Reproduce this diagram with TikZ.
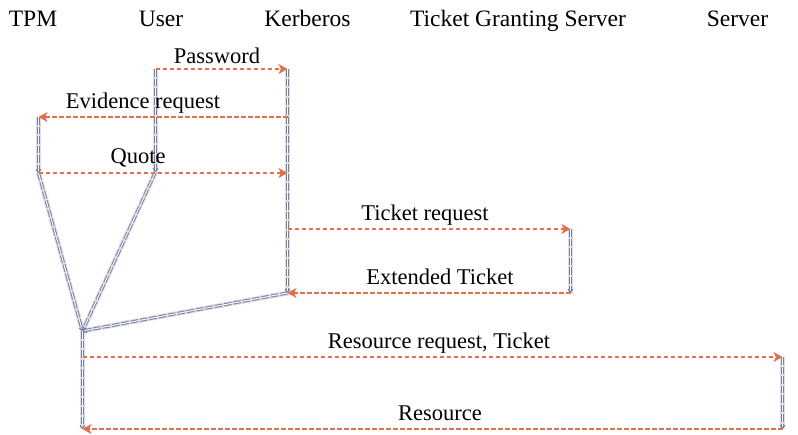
\documentclass[tikz,border=0pt]{standalone}
\usepackage{fontspec}
\setmainfont{Liberation Serif}
\usetikzlibrary{arrows.meta}
\definecolor{msgorange}{RGB}{226,112,78}
\definecolor{lifeblue}{RGB}{118,127,160}
\definecolor{halo}{RGB}{222,222,228}
\begin{document}
\begin{tikzpicture}[x=1pt,y=-1pt,
  hdr/.style={anchor=base, font=\fontsize{23.5}{26}\selectfont, inner sep=0pt},
  lbl/.style={anchor=base, font=\fontsize{22.5}{26}\selectfont, inner sep=0pt},
  lifehalo/.style={draw=halo, line width=5pt},
  life/.style={draw=lifeblue, line width=1pt, double=white, double distance=1pt,
    dash pattern=on 7.5pt off 2pt},
  lifetip/.style={-{Straight Barb[length=3pt,width=5pt]}},
  msg/.style={draw=msgorange, line width=1.8pt, dash pattern=on 4.5pt off 2.5pt,
    -{Stealth[length=9pt,width=10pt,inset=2.5pt]}}
]
\useasboundingbox (0,0) rectangle (798,434);

% participants
\node[hdr] (tpm)  at (33,26)    {TPM};
\node[hdr] (user) at (161,26)   {User};
\node[hdr] (kerb) at (307.5,26) {Kerberos};
\node[hdr] (tgs)  at (518,26)   {Ticket Granting Server};
\node[hdr] (srv)  at (737.5,26) {Server};

% lifeline waypoints (x on pixel centres so the thin double strokes stay crisp)
\coordinate (u0) at (155.5,69);
\coordinate (u1) at (155.5,172);
\coordinate (k0) at (287.5,69);
\coordinate (k1) at (287.5,117);
\coordinate (k2) at (287.5,173);
\coordinate (k3) at (287.5,229);
\coordinate (k4) at (287.5,293);
\coordinate (t0) at (38.5,117);
\coordinate (t1) at (38.5,173);
\coordinate (jn) at (82.5,331);
\coordinate (b1) at (82.5,357);
\coordinate (b2) at (82.5,429);
\coordinate (g0) at (570.5,229);
\coordinate (g1) at (570.5,293);
\coordinate (s0) at (782.5,357);
\coordinate (s1) at (782.5,429);

% soft halo behind the lifelines
\draw[lifehalo] (u0) -- (u1) -- (jn);
\draw[lifehalo] (k0) -- (k4) -- (jn);
\draw[lifehalo] (t0) -- (t1) -- (jn) -- (b2);
\draw[lifehalo] (g0) -- (g1);
\draw[lifehalo] (s0) -- (s1);

% lifelines
\draw[life,lifetip] (u0) -- (u1);
\draw[life,lifetip] (u1) -- (jn);
\draw[life,lifetip] (k0) -- (k4);
\draw[life,lifetip] (k4) -- (jn);
\draw[life,lifetip] (t0) -- (t1);
\draw[life,lifetip] (t1) -- (jn);
\draw[life,lifetip] (jn) -- (b2);
\draw[life,lifetip] (g0) -- (g1);
\draw[life,lifetip] (s0) -- (s1);

% messages
\draw[msg] (u0) -- (k0);
\draw[msg] (k1) -- (t0);
\draw[msg] (t1) -- (k2);
\draw[msg] (k3) -- (g0);
\draw[msg] (g1) -- (k4);
\draw[msg] (b1) -- (s0);
\draw[msg] (s1) -- (b2);

% message labels
\node[lbl] (lpw)  at (217,63)  {Password};
\node[lbl] (lev)  at (143,108) {Evidence request};
\node[lbl] (lqu)  at (138,163) {Quote};
\node[lbl] (ltr)  at (425,220) {Ticket request};
\node[lbl] (let)  at (440,284) {Extended Ticket};
\node[lbl] (lrr)  at (439,348) {Resource request, Ticket};
\node[lbl] (lre)  at (440,420) {Resource};
\end{tikzpicture}
\end{document}
